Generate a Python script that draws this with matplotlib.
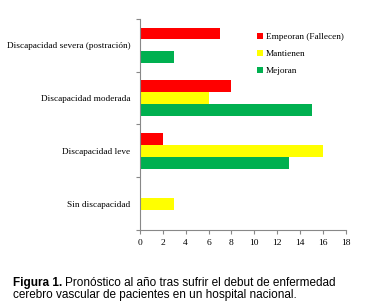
import matplotlib.pyplot as plt
import numpy as np

categories = ["Discapacidad severa (postración)", "Discapacidad moderada",
              "Discapacidad leve", "Sin discapacidad"]
empeoran = [7, 8, 2, 0]
mantienen = [0, 6, 16, 3]
mejoran = [3, 15, 13, 0]

series = [
    ("Empeoran (Fallecen)", empeoran, "#ff0000"),
    ("Mantienen", mantienen, "#ffff00"),
    ("Mejoran", mejoran, "#00b050"),
]

serif = "Liberation Serif"

fig = plt.figure(figsize=(3.7, 3.07), dpi=100)
ax = fig.add_axes([0.378, 0.251, 0.557, 0.687])

y = np.arange(len(categories))
h = 0.226
for i, (name, vals, color) in enumerate(series):
    ax.barh(y + (i - 1) * h, vals, height=h, color=color, label=name)

ax.set_ylim(len(categories) - 0.5, -0.5)
ax.set_xlim(0, 18)
ax.set_xticks(range(0, 19, 2))

ax.set_yticks(np.arange(-0.5, len(categories), 1))
ax.set_yticklabels([])
ax.set_yticks(y, minor=True)
ax.set_yticklabels(categories, minor=True, family=serif, fontsize=6.7)
ax.tick_params(axis="y", which="minor", length=0, pad=7)
ax.tick_params(axis="y", which="major", length=3, color="#888888")
ax.tick_params(axis="x", length=3, color="#888888", labelsize=6.8)
for lbl in ax.get_xticklabels():
    lbl.set_family(serif)

for s in ["top", "right"]:
    ax.spines[s].set_visible(False)
for s in ["left", "bottom"]:
    ax.spines[s].set_color("#888888")
    ax.spines[s].set_linewidth(0.8)

ax.legend(loc="upper left", bbox_to_anchor=(0.53, 0.975), frameon=False,
          prop={"family": serif, "size": 6.7}, handlelength=0.6,
          handleheight=0.6, handletextpad=0.3, labelspacing=0.95)

t = fig.text(0.035, 0.07, "Figura 1.", family="Liberation Sans",
             fontsize=8.5, weight="bold")
fig.canvas.draw()
bb = t.get_window_extent().transformed(fig.transFigure.inverted())
fig.text(bb.x1 + 0.008, 0.07,
         "Pronóstico al año tras sufrir el debut de enfermedad",
         family="Liberation Sans", fontsize=8.5)
fig.text(0.035, 0.028, "cerebro vascular de pacientes en un hospital nacional.",
         family="Liberation Sans", fontsize=8.5)

fig.savefig("out.png", dpi=100)
